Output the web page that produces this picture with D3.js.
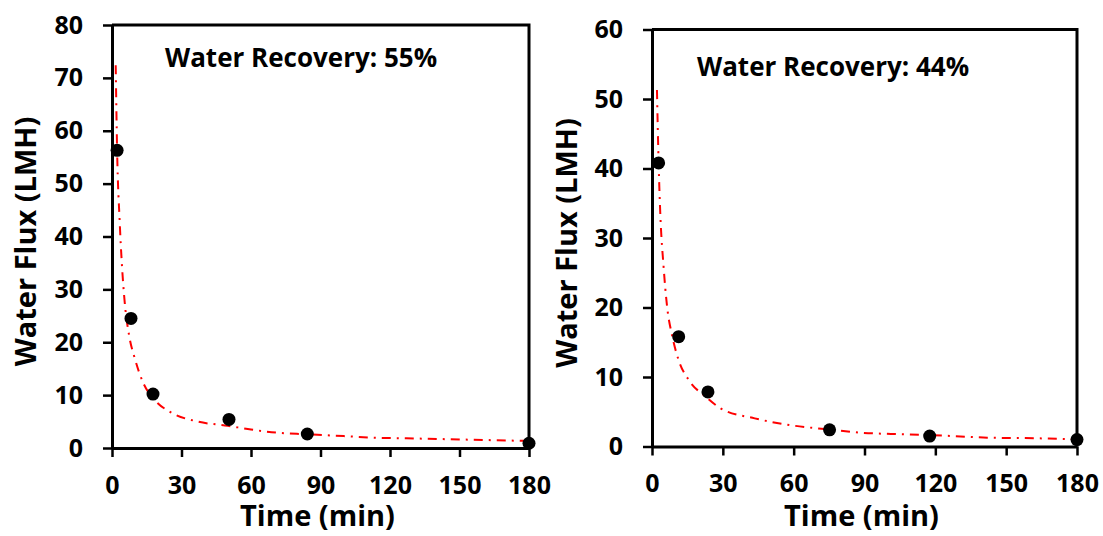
<!DOCTYPE html>
<html>
<head>
<meta charset="utf-8">
<script src="https://cdn.jsdelivr.net/npm/d3@7"></script>
<style>
  body { margin: 0; background: #fff; }
  svg text { font-family: "Open Sans", Lato, sans-serif; font-weight: bold; fill: #000; }
</style>
</head>
<body>
<div id="chart"></div>
<script>
// tick values
const timeTicks = [0, 30, 60, 90, 120, 150, 180];
const leftFluxTicks = [0, 10, 20, 30, 40, 50, 60, 70, 80];
const rightFluxTicks = [0, 10, 20, 30, 40, 50, 60];

// measured points, 55% recovery run
const leftTime = [2.2, 8.2, 17.7, 50.5, 84.3, 180];
const leftFlux = [56.3, 24.5, 10.2, 5.4, 2.65, 0.9];
// fitted trend line
const leftFitTime = [1.6, 2.2, 3.3, 4.3, 5.5, 7.5, 9.8, 13.4, 18.4, 25.6, 37, 50, 60, 71, 84, 100, 113, 127, 141, 162, 178];
const leftFitFlux = [72.4, 56.4, 43, 34.5, 27.5, 21, 17, 12.4, 9.1, 6.7, 5.0, 4.2, 3.5, 2.9, 2.6, 2.25, 1.95, 1.83, 1.7, 1.5, 1.35];

// measured points, 44% recovery run
const rightTime = [2.8, 11.3, 23.7, 75.2, 117.6, 180];
const rightFlux = [40.8, 15.8, 7.85, 2.4, 1.5, 1.0];
const rightFitTime = [2.1, 2.8, 3.5, 4.9, 6.4, 8.5, 11.3, 15.5, 22.6, 29, 43.5, 60, 75, 88, 106.6, 127.7, 142, 163, 180];
const rightFitFlux = [51.3, 40.8, 33.6, 25.9, 20.1, 16, 12.4, 9.6, 7.2, 5.5, 4.05, 3.0, 2.45, 2.0, 1.75, 1.5, 1.27, 1.18, 1.03];

const labels = ["Water Recovery: 55%", "Water Recovery: 44%"];

const width = 1103, height = 536;
const svg = d3.select("#chart").append("svg")
  .attr("width", width).attr("height", height);

const panels = [
  { x0: 112, x1: 529, y0: 25, y1: 448, yMax: 80, yTicks: leftFluxTicks,
    time: leftTime, flux: leftFlux, fitTime: leftFitTime, fitFlux: leftFitFlux,
    label: labels[0], labelX: 165, labelY: 67, titleX: 36 },
  { x0: 652, x1: 1077, y0: 29.5, y1: 446.5, yMax: 60, yTicks: rightFluxTicks,
    time: rightTime, flux: rightFlux, fitTime: rightFitTime, fitFlux: rightFitFlux,
    label: labels[1], labelX: 697, labelY: 76, titleX: 577 }
];

panels.forEach(p => drawPanel(p));

function drawPanel(p) {
  const x = d3.scaleLinear().domain([0, 180]).range([p.x0, p.x1]);
  const y = d3.scaleLinear().domain([0, p.yMax]).range([p.y1, p.y0]);
  const g = svg.append("g");

  // frame (top and right)
  g.append("path")
    .attr("d", `M${p.x0},${p.y0}H${p.x1}V${p.y1}`)
    .attr("fill", "none")
    .attr("stroke", "#000")
    .attr("stroke-width", 3);

  const yAxis = g.append("g")
    .attr("transform", `translate(${p.x0},0)`)
    .call(d3.axisLeft(y).tickValues(p.yTicks).tickSize(9).tickSizeOuter(0).tickPadding(20));

  const xAxis = g.append("g")
    .attr("transform", `translate(0,${p.y1})`)
    .call(d3.axisBottom(x).tickValues(timeTicks).tickSize(9).tickSizeOuter(0).tickPadding(19));

  [yAxis, xAxis].forEach(a => {
    a.select(".domain").attr("stroke", "#000").attr("stroke-width", 3);
    a.selectAll(".tick line").attr("stroke", "#000").attr("stroke-width", 2.5);
    a.selectAll(".tick text")
      .attr("fill", "#000")
      .style("font-size", "25px");
  });

  // trend line
  const fit = p.fitTime.map((t, i) => [t, p.fitFlux[i]]);
  g.append("path")
    .datum(fit)
    .attr("fill", "none")
    .attr("stroke", "#ff0000")
    .attr("stroke-width", 2)
    .attr("stroke-dasharray", "9,6,2,6")
    .attr("d", d3.line().x(d => x(d[0])).y(d => y(d[1])).curve(d3.curveMonotoneX));

  // data points
  g.selectAll(".dot")
    .data(p.time.map((t, i) => [t, p.flux[i]]))
    .enter().append("circle")
    .attr("class", "dot")
    .attr("cx", d => x(d[0]))
    .attr("cy", d => y(d[1]))
    .attr("r", 6.5)
    .attr("fill", "#000");

  g.append("text")
    .attr("x", p.labelX)
    .attr("y", p.labelY)
    .style("font-size", "26px")
    .text(p.label);

  // axis titles
  g.append("text")
    .attr("x", (p.x0 + p.x1) / 2 - 3)
    .attr("y", 526)
    .attr("text-anchor", "middle")
    .style("font-size", "29px")
    .text("Time (min)");

  g.append("text")
    .attr("transform", `translate(${p.titleX},${(p.y0 + p.y1) / 2 + 5}) rotate(-90)`)
    .attr("text-anchor", "middle")
    .style("font-size", "29px")
    .text("Water Flux (LMH)");
}
</script>
</body>
</html>
